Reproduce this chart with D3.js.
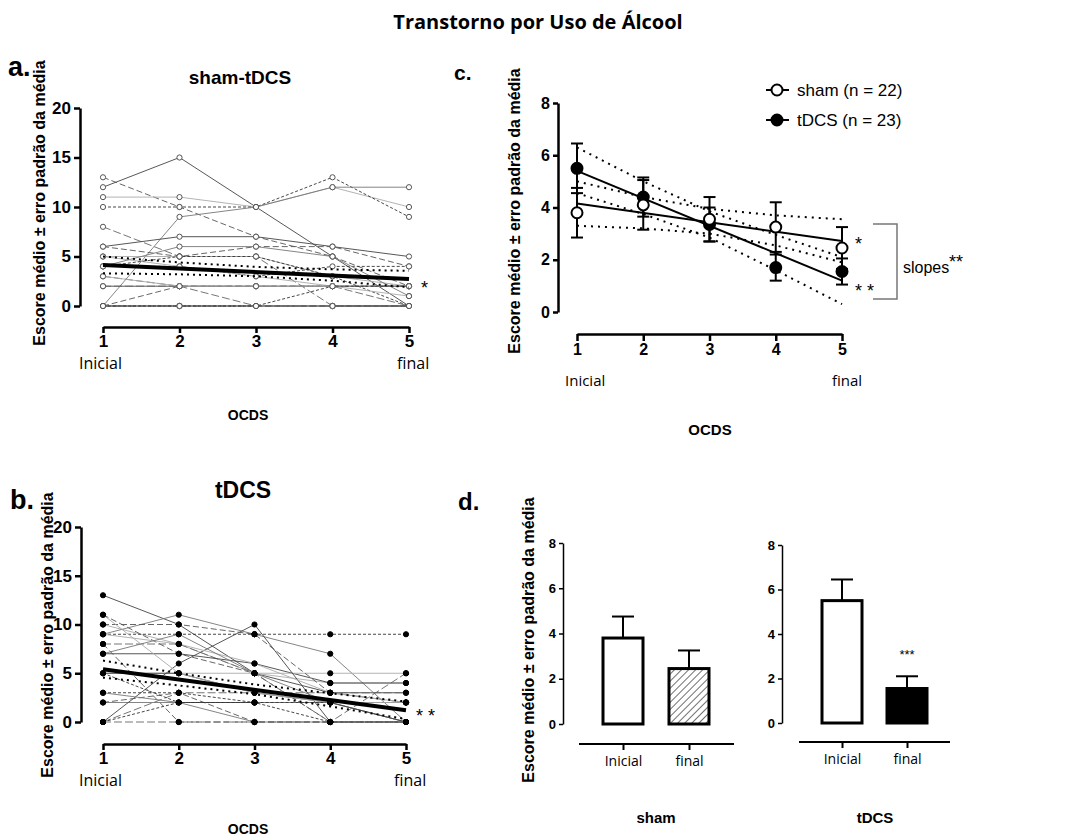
<!DOCTYPE html>
<html>
<head>
<meta charset="utf-8">
<script src="https://cdn.jsdelivr.net/npm/d3@7"></script>
<style>
  body { margin: 0; background: #fff; }
  svg { display: block; font-family: "Liberation Sans", Arial, sans-serif; }
  .tick text { font-weight: bold; }
</style>
</head>
<body>
<svg id="chart" width="1077" height="839"></svg>
<script>
// ---- data ----
const visits = [1, 2, 3, 4, 5]
const visitEnds = ["Inicial", "final"]

// individual OCDS scores per subject (visit 1..5)
const shamSubjects = [
  [12, 15, 10, 5, 0], [13, 10, 7, 5, 2], [11, 11, 10, 12, 10], [10, 10, 10, 13, 9],
  [0, 9, 10, 12, 12], [8, 5, 5, 0, 0], [6, 7, 7, 6, 5], [6, 5, 6, 6, 4],
  [5, 5, 5, 3, 2], [4, 4, 3, 4, 4], [4, 6, 6, 5, 1], [3, 2, 0, 0, 0],
  [2, 2, 2, 2, 2], [0, 0, 0, 0, 0], [5, 4, 3, 2, 2], [4, 5, 5, 3, 0],
  [0, 0, 0, 0, 0], [2, 2, 2, 2, 0], [0, 0, 0, 0, 0], [0, 2, 2, 2, 2],
  [3, 2, 2, 2, 1], [0, 0, 0, 2, 2]
]
const tdcsSubjects = [
  [13, 10, 5, 3, 3], [11, 7, 5, 0, 0], [10, 8, 5, 4, 4], [9, 9, 9, 9, 9],
  [9, 11, 9, 7, 0], [8, 8, 5, 0, 5], [7, 7, 6, 4, 4], [8, 0, 0, 0, 0],
  [5, 5, 5, 5, 5], [3, 3, 2, 2, 2], [2, 2, 2, 2, 0], [0, 3, 3, 3, 3],
  [0, 6, 10, 0, 0], [10, 10, 9, 3, 2], [9, 8, 6, 3, 2], [0, 2, 2, 2, 2],
  [7, 9, 5, 2, 0], [0, 0, 0, 0, 0], [5, 5, 3, 2, 0], [2, 3, 0, 0, 0],
  [11, 5, 3, 2, 2], [5, 2, 2, 0, 0], [3, 2, 0, 0, 0]
]

// group means and SEM
const shamMean = [3.8, 4.1, 3.55, 3.25, 2.45]
const shamSem = [0.95, 0.95, 0.85, 0.95, 0.8]
const tdcsMean = [5.5, 4.4, 3.35, 1.7, 1.55]
const tdcsSem = [0.95, 0.75, 0.65, 0.5, 0.5]

// linear fits (value at visit 1 and 5) and 95% bands
const shamFit = [4.15, 2.72]
const tdcsFit = [5.4, 1.2]
const shamBandHi = [5.0, 4.4, 3.95, 3.7, 3.55]
const shamBandLo = [3.3, 3.2, 3.0, 2.55, 1.9]
const tdcsBandHi = [6.3, 5.0, 3.85, 2.95, 2.1]
const tdcsBandLo = [4.55, 3.75, 2.85, 1.6, 0.3]

// bars: inicial vs final
const barGroups = ["Inicial", "final"]
const shamBar = [3.8, 2.45]
const shamBarSem = [0.95, 0.8]
const tdcsBar = [5.5, 1.55]
const tdcsBarSem = [0.95, 0.55]

const yLabel = "Escore médio ± erro padrão da média"

const svg = d3.select("#chart")

// hatch pattern
svg.append("defs").append("pattern")
  .attr("id", "hatch").attr("patternUnits", "userSpaceOnUse")
  .attr("width", 5).attr("height", 5)
  .attr("patternTransform", "rotate(45)")
  .append("line").attr("x1", 0).attr("y1", 0).attr("x2", 0).attr("y2", 5)
  .attr("stroke", "#222").attr("stroke-width", 1.3)

// main title
svg.append("text").attr("x", 538).attr("y", 29).attr("text-anchor", "middle")
  .style("font-family", "'Open Sans', sans-serif").style("font-weight", 700)
  .style("font-size", "20px").text("Transtorno por Uso de Álcool")

function panelLetter(txt, x, y, size) {
  svg.append("text").attr("x", x).attr("y", y).style("font-weight", "bold")
    .style("font-size", size + "px").text(txt)
}

function rotLabel(x, y, size) {
  svg.append("text").attr("transform", `translate(${x},${y}) rotate(-90)`)
    .attr("text-anchor", "middle").attr("dominant-baseline", "central")
    .style("font-weight", "bold").style("font-size", size + "px").text(yLabel)
}

function styleAxis(g, fontSize, width) {
  g.selectAll("path.domain").attr("stroke", "#000").attr("stroke-width", width)
  g.selectAll(".tick line").attr("stroke", "#000").attr("stroke-width", width)
  g.selectAll(".tick text").style("font-size", fontSize + "px").attr("fill", "#000")
}

const lineStyles = [
  { c: "#444", d: null }, { c: "#555", d: "6,3" }, { c: "#aaa", d: null },
  { c: "#333", d: "3,2" }, { c: "#777", d: null }, { c: "#666", d: "8,3" }
]

const endFont = "'Open Sans', sans-serif"

// spaghetti panel (a / b)
function spaghetti(o) {
  const x = d3.scaleLinear().domain([1, 5]).range(o.xr)
  const y = d3.scaleLinear().domain([0, 20]).range(o.yr)
  const g = svg.append("g")

  const yAx = g.append("g").attr("transform", `translate(${o.yAxisX},0)`)
    .call(d3.axisLeft(y).tickValues([0, 5, 10, 15, 20]).tickSize(6).tickSizeOuter(0).tickPadding(3))
  styleAxis(yAx, 17, 2.5)
  const xAx = g.append("g").attr("transform", `translate(0,${o.xAxisY})`)
    .call(d3.axisBottom(x).tickValues(visits).tickFormat(d3.format("d")).tickSize(6).tickSizeOuter(0).tickPadding(2))
  styleAxis(xAx, 17, 2.5)

  const line = d3.line().x((d, i) => x(visits[i])).y(d => y(d))
  o.subjects.forEach((s, i) => {
    const st = lineStyles[i % lineStyles.length]
    g.append("path").datum(s).attr("d", line).attr("fill", "none")
      .attr("stroke", st.c).attr("stroke-width", 0.9)
      .attr("stroke-dasharray", st.d)
  })
  o.subjects.forEach(s => {
    g.selectAll(null).data(s).enter().append("circle")
      .attr("cx", (d, i) => x(visits[i])).attr("cy", d => y(d)).attr("r", 2.6)
      .attr("fill", o.open ? "#fff" : "#000")
      .attr("stroke", o.open ? "#555" : "#000").attr("stroke-width", 1)
  })
  // bands
  ;[o.bandHi, o.bandLo].forEach(b => {
    g.append("path").datum(b).attr("d", line).attr("fill", "none")
      .attr("stroke", "#000").attr("stroke-width", 2).attr("stroke-dasharray", "2,4")
  })
  g.append("line").attr("x1", x(1)).attr("x2", x(5))
    .attr("y1", y(o.fit[0])).attr("y2", y(o.fit[1]))
    .attr("stroke", "#000").attr("stroke-width", 4)

  svg.append("text").attr("x", o.starX).attr("y", o.starY).style("font-size", "18px").text(o.star)
  svg.append("text").attr("x", x(1) - 24).attr("y", o.xAxisY + 42)
    .style("font-family", endFont).style("font-size", "16px").text(visitEnds[0])
  svg.append("text").attr("x", x(5) - 12).attr("y", o.xAxisY + 42)
    .style("font-family", endFont).style("font-size", "16px").text(visitEnds[1])
  svg.append("text").attr("x", o.titleX).attr("y", o.titleY).attr("text-anchor", "middle")
    .style("font-weight", "bold").style("font-size", o.titleSize + "px").text(o.title)
  svg.append("text").attr("x", 248).attr("y", o.ocdsY).attr("text-anchor", "middle")
    .style("font-weight", "bold").style("font-size", "14px").text("OCDS")
}

spaghetti({
  subjects: shamSubjects, open: true, xr: [103, 409], yr: [306, 108], yAxisX: 80, xAxisY: 327,
  bandHi: shamBandHi, bandLo: shamBandLo, fit: shamFit, star: "*", starX: 421, starY: 294,
  title: "sham-tDCS", titleX: 240, titleY: 84, titleSize: 19, ocdsY: 420
})
spaghetti({
  subjects: tdcsSubjects, open: false, xr: [103, 406], yr: [722, 527], yAxisX: 81, xAxisY: 744,
  bandHi: tdcsBandHi, bandLo: tdcsBandLo, fit: tdcsFit, star: "* *", starX: 416, starY: 722,
  title: "tDCS", titleX: 243, titleY: 498, titleSize: 23, ocdsY: 834
})
panelLetter("a.", 8, 76, 27)
panelLetter("b.", 10, 509, 27)
rotLabel(39, 203, 16)
rotLabel(47, 635, 16)

// ---- panel c ----
{
  const x = d3.scaleLinear().domain([1, 5]).range([577, 842])
  const y = d3.scaleLinear().domain([0, 8]).range([312, 103])
  const g = svg.append("g")
  const yAx = g.append("g").attr("transform", "translate(558,0)")
    .call(d3.axisLeft(y).tickValues([0, 2, 4, 6, 8]).tickSize(5).tickSizeOuter(0).tickPadding(3))
  styleAxis(yAx, 16, 2.5)
  const xAx = g.append("g").attr("transform", "translate(0,334)")
    .call(d3.axisBottom(x).tickValues(visits).tickFormat(d3.format("d")).tickSize(7).tickSizeOuter(0).tickPadding(3))
  styleAxis(xAx, 16, 2.5)

  const line = d3.line().x((d, i) => x(visits[i])).y(d => y(d))
  ;[shamBandHi, shamBandLo, tdcsBandHi, tdcsBandLo].forEach(b => {
    g.append("path").datum(b).attr("d", line).attr("fill", "none")
      .attr("stroke", "#000").attr("stroke-width", 2).attr("stroke-dasharray", "2,5")
  })
  ;[shamFit, tdcsFit].forEach(f => {
    g.append("line").attr("x1", x(1)).attr("x2", x(5)).attr("y1", y(f[0])).attr("y2", y(f[1]))
      .attr("stroke", "#000").attr("stroke-width", 2)
  })
  const groups = [
    { m: tdcsMean, s: tdcsSem, fill: "#000" },
    { m: shamMean, s: shamSem, fill: "#fff" }
  ]
  groups.forEach(gr => {
    gr.m.forEach((v, i) => {
      const cx = x(visits[i])
      g.append("line").attr("x1", cx).attr("x2", cx).attr("y1", y(v - gr.s[i])).attr("y2", y(v + gr.s[i]))
        .attr("stroke", "#000").attr("stroke-width", 2)
      ;[v - gr.s[i], v + gr.s[i]].forEach(e => {
        g.append("line").attr("x1", cx - 6).attr("x2", cx + 6).attr("y1", y(e)).attr("y2", y(e))
          .attr("stroke", "#000").attr("stroke-width", 2)
      })
    })
  })
  groups.forEach(gr => {
    g.selectAll(null).data(gr.m).enter().append("circle")
      .attr("cx", (d, i) => x(visits[i])).attr("cy", d => y(d)).attr("r", 5.5)
      .attr("fill", gr.fill).attr("stroke", "#000").attr("stroke-width", 2)
  })

  // legend
  const leg = [{ t: "sham (n = 22)", f: "#fff", y: 90 }, { t: "tDCS (n = 23)", f: "#000", y: 120 }]
  leg.forEach(l => {
    g.append("line").attr("x1", 766).attr("x2", 789).attr("y1", l.y).attr("y2", l.y)
      .attr("stroke", "#000").attr("stroke-width", 2)
    g.append("circle").attr("cx", 777).attr("cy", l.y).attr("r", 5.5)
      .attr("fill", l.f).attr("stroke", "#000").attr("stroke-width", 2)
    g.append("text").attr("x", 797).attr("y", l.y + 6).style("font-size", "17px").text(l.t)
  })

  g.append("text").attr("x", x(1) - 12).attr("y", 386)
    .style("font-family", endFont).style("font-size", "15px").text(visitEnds[0])
  g.append("text").attr("x", x(5) - 10).attr("y", 386)
    .style("font-family", endFont).style("font-size", "15px").text(visitEnds[1])
  g.append("text").attr("x", 710).attr("y", 435).attr("text-anchor", "middle")
    .style("font-weight", "bold").style("font-size", "15px").text("OCDS")

  g.append("text").attr("x", 855).attr("y", 250).style("font-size", "18px").text("*")
  g.append("text").attr("x", 855).attr("y", 297).style("font-size", "18px").text("* *")
  g.append("path").attr("d", "M873,224H897V299H873").attr("fill", "none")
    .attr("stroke", "#777").attr("stroke-width", 1.5)
  g.append("text").attr("x", 903).attr("y", 273).style("font-size", "16px").text("slopes")
  g.append("text").attr("x", 949).attr("y", 268).style("font-size", "18px").text("**")
}
panelLetter("c.", 454, 80, 21)
rotLabel(514, 211, 16)

// ---- panel d ----
function barPanel(o) {
  const x = d3.scalePoint().domain(barGroups).range(o.xr).padding(0.5)
  const y = d3.scaleLinear().domain([0, 8]).range(o.yr)
  const g = svg.append("g")
  const yAx = g.append("g").attr("transform", `translate(${o.yAxisX},0)`)
    .call(d3.axisLeft(y).tickValues([0, 2, 4, 6, 8]).tickSize(4).tickSizeOuter(0).tickPadding(3))
  styleAxis(yAx, 13, 1.5)
  const xAx = g.append("g").attr("transform", `translate(0,${o.xAxisY})`)
    .call(d3.axisBottom(x).tickSize(6).tickSizeOuter(0).tickPadding(6))
  xAx.select("path.domain").remove()
  xAx.selectAll(".tick line").attr("stroke", "#000").attr("stroke-width", 2)
  xAx.selectAll(".tick text").style("font-weight", "normal")
    .style("font-family", endFont).style("font-size", "14px").attr("fill", "#000")
  g.append("line").attr("x1", o.lineX[0]).attr("x2", o.lineX[1])
    .attr("y1", o.xAxisY).attr("y2", o.xAxisY).attr("stroke", "#000").attr("stroke-width", 2)

  const bw = 40
  o.vals.forEach((v, i) => {
    const cx = x(barGroups[i])
    g.append("line").attr("x1", cx).attr("x2", cx).attr("y1", y(v)).attr("y2", y(v + o.sem[i]))
      .attr("stroke", "#000").attr("stroke-width", 2)
    g.append("line").attr("x1", cx - 11).attr("x2", cx + 11).attr("y1", y(v + o.sem[i])).attr("y2", y(v + o.sem[i]))
      .attr("stroke", "#000").attr("stroke-width", 2)
    g.append("rect").attr("x", cx - bw / 2).attr("width", bw)
      .attr("y", y(v)).attr("height", y(0) - y(v))
      .attr("fill", o.fills[i]).attr("stroke", "#000").attr("stroke-width", 3)
  })
  if (o.star) {
    g.append("text").attr("x", x(barGroups[1])).attr("y", o.starY).attr("text-anchor", "middle")
      .style("font-size", "13px").text(o.star)
  }
  g.append("text").attr("x", o.nameX).attr("y", 823).attr("text-anchor", "middle")
    .style("font-weight", "bold").style("font-size", "15px").text(o.name)
}
barPanel({
  xr: [590, 722], yr: [724, 543], yAxisX: 563, xAxisY: 744, lineX: [579, 734],
  vals: shamBar, sem: shamBarSem, fills: ["#fff", "url(#hatch)"], name: "sham", nameX: 656
})
barPanel({
  xr: [809.5, 939.5], yr: [723, 545], yAxisX: 782, xAxisY: 742, lineX: [799, 950],
  vals: tdcsBar, sem: tdcsBarSem, fills: ["#fff", "#000"], name: "tDCS", nameX: 875,
  star: "***", starY: 659
})
panelLetter("d.", 458, 510, 24)
rotLabel(528, 640, 16)
</script>
</body>
</html>
